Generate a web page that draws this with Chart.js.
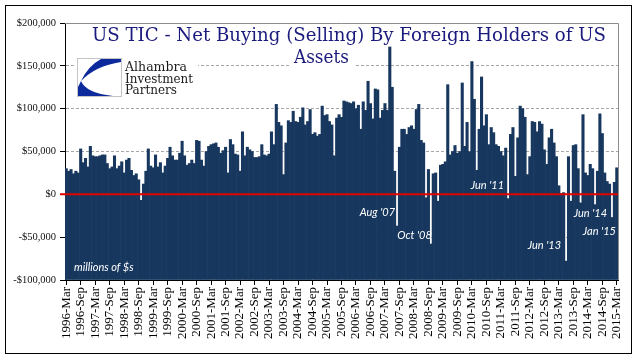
<!DOCTYPE html>
<html>
<head>
<meta charset="utf-8">
<title>US TIC - Net Buying (Selling)</title>
<script src="https://cdn.jsdelivr.net/npm/chart.js@4.4.0/dist/chart.umd.min.js"></script>
<style>
  html, body { margin: 0; padding: 0; background: #fff; }
  #wrap { width: 641px; height: 361px; }
</style>
</head>
<body>
<div id="wrap"><canvas id="ticChart" width="641" height="361"></canvas></div>
<script>
/* -------------------- DATA -------------------- */
const MONTH_NAMES = ["Jan", "Feb", "Mar", "Apr", "May", "Jun", "Jul", "Aug", "Sep", "Oct", "Nov", "Dec"];

// one label per month, 1996-Mar .. 2015-Mar
const months = [];
for (let yr = 1996; yr <= 2015; yr++) {
  for (let m = 0; m < 12; m++) {
    if ((yr === 1996 && m < 2) || (yr === 2015 && m > 2)) continue;
    months.push(yr + "-" + MONTH_NAMES[m]);
  }
}

// net buying (selling), $ millions, one row per year
const netFlows = [
  30000, 27000, 29000, 24000, 27000, 25000, 53000, 37000, 42000, 32000,                 // 1996 (Mar-Dec)
  56000, 45000, 44000, 44000, 45000, 46000, 46000, 36000, 30000, 32000, 45000, 30000,   // 1997
  33000, 38000, 25000, 40000, 42000, 28000, 22000, 24000, 17000, -7000, 12000, 27000,   // 1998
  53000, 33000, 31000, 46000, 32000, 37000, 25000, 33000, 42000, 55000, 45000, 40000,   // 1999
  40000, 48000, 62000, 45000, 34000, 36000, 40000, 36000, 63000, 62000, 40000, 33000,   // 2000
  50000, 56000, 58000, 59000, 60000, 55000, 48000, 51000, 55000, 25000, 64000, 58000,   // 2001
  47000, 46000, 27000, 73000, 45000, 55000, 52000, 50000, 43000, 43000, 44000, 58000,   // 2002
  46000, 45000, 47000, 73000, 58000, 105000, 84000, 80000, 23000, 60000, 86000, 84000,  // 2003
  97000, 85000, 84000, 90000, 101000, 81000, 85000, 99000, 70000, 72000, 68000, 70000,  // 2004
  103000, 92000, 93000, 85000, 81000, 45000, 89000, 93000, 90000, 109000, 108000, 107000, // 2005
  106000, 108000, 100000, 104000, 76000, 108000, 98000, 132000, 106000, 88000, 123000, 122000, // 2006
  89000, 98000, 106000, 98000, 172000, 125000, 27000, -37000, 55000, 76000, 76000, 70000, // 2007
  78000, 80000, 76000, 99000, 105000, 63000, 60000, -4000, 29000, -58000, 24000, 25000, // 2008
  -8000, 34000, 35000, 38000, 128000, 46000, 50000, 57000, 48000, 50000, 130000, 56000, // 2009
  84000, 50000, 155000, 111000, 28000, 76000, 137000, 80000, 93000, 58000, 78000, 72000, // 2010
  58000, 56000, 50000, 45000, 54000, -5000, 70000, 78000, 21000, 66000, 103000, 100000, // 2011
  90000, 23000, 44000, 85000, 84000, 73000, 85000, 82000, 52000, 35000, 66000, 76000,   // 2012
  60000, 44000, 10000, 1000, 2000, -78000, 44000, -8000, 57000, 58000, 30000, -10000,   // 2013
  93000, 25000, 22000, 35000, 30000, -12000, 27000, 94000, 71000, 25000, 15000, 12000,  // 2014
  -27000, 14000, 31000                                                                  // 2015 (Jan-Mar)
];

const yTickValues = [-100000, -50000, 0, 50000, 100000, 150000, 200000];
const dashedGrid = [-50000, 50000, 100000, 150000];

// callouts: month, text, where the text sits (value axis) and shift from the bar
const callouts = [
  { month: "2007-Aug", text: "Aug '07", at: -21000, dx: -2 },
  { month: "2008-Oct", text: "Oct '08", at: -48000, dx: 1 },
  { month: "2011-Jun", text: "Jun '11", at: 10500, dx: -4 },
  { month: "2013-Jun", text: "Jun '13", at: -60000, dx: -5 },
  { month: "2014-Jun", text: "Jun '14", at: -22000, dx: 12 },
  { month: "2015-Jan", text: "Jan '15", at: -43000, dx: 4 }
];

const BAR_COLOR = "#17375e";
const SERIF = "'Liberation Serif', 'Times New Roman', serif";

/* -------------------- HELPERS -------------------- */
function money(v) {
  const s = Math.abs(v).toString().replace(/\B(?=(\d{3})+(?!\d))/g, ",");
  return (v < 0 ? "-$" : "$") + s;
}

// draw text stretched to a given width
function fitText(ctx, text, x, y, w) {
  const m = ctx.measureText(text).width;
  ctx.save();
  ctx.translate(x, y);
  ctx.scale(w / m, 1);
  ctx.fillText(text, 0, 0);
  ctx.restore();
}

/* -------------------- OVERLAY PLUGIN -------------------- */
const overlay = {
  id: "overlay",
  beforeDraw(chart) {
    const ctx = chart.ctx;
    ctx.save();
    ctx.fillStyle = "#fff";
    ctx.fillRect(0, 0, chart.width, chart.height);
    ctx.restore();
  },
  afterDatasetsDraw(chart) {
    const { ctx, chartArea: a, scales: { x, y } } = chart;
    ctx.save();

    // plot frame (top / right)
    ctx.strokeStyle = "#8c8c8c";
    ctx.lineWidth = 1;
    ctx.beginPath();
    ctx.moveTo(a.left, Math.round(a.top) + 0.5);
    ctx.lineTo(Math.round(a.right) + 0.5, Math.round(a.top) + 0.5);
    ctx.lineTo(Math.round(a.right) + 0.5, a.bottom);
    ctx.stroke();

    // zero line
    const y0 = y.getPixelForValue(0);
    ctx.strokeStyle = "#e00000";
    ctx.lineWidth = 2;
    ctx.beginPath();
    ctx.moveTo(a.left - 5, y0);
    ctx.lineTo(a.right, y0);
    ctx.stroke();

    // callouts
    ctx.fillStyle = "#fff";
    ctx.font = "italic 11px Lato, 'Open Sans', sans-serif";
    ctx.textBaseline = "middle";
    ctx.textAlign = "right";
    callouts.forEach(c => {
      const bx = x.getPixelForValue(months.indexOf(c.month));
      ctx.fillText(c.text, bx + c.dx, y.getPixelForValue(c.at));
    });
    ctx.textAlign = "left";
    ctx.fillText("millions of $s", a.left + 9, y.getPixelForValue(-85000));
    ctx.restore();
  },
  afterDraw(chart) {
    const ctx = chart.ctx;
    ctx.save();

    // title
    ctx.fillStyle = "#1b1b7d";
    ctx.font = "18px 'DejaVu Serif', serif";
    ctx.textAlign = "left";
    ctx.textBaseline = "alphabetic";
    fitText(ctx, "US TIC - Net Buying (Selling) By Foreign Holders of US", 92, 41, 514);
    ctx.fillStyle = "#fff";
    ctx.fillRect(290, 48, 64, 18);
    ctx.fillStyle = "#1b1b7d";
    fitText(ctx, "Assets", 294, 63, 55);

    // logo
    ctx.fillStyle = "#fff";
    ctx.fillRect(74, 55, 124, 44);
    ctx.strokeStyle = "#c4c4c4";
    ctx.lineWidth = 1;
    ctx.strokeRect(77.5, 58.5, 44, 38);
    ctx.fillStyle = "#0d2a9c";
    ctx.beginPath();
    ctx.moveTo(101, 59);
    ctx.lineTo(121, 59);
    ctx.lineTo(121, 62);
    ctx.quadraticCurveTo(95, 66, 81, 81);
    ctx.quadraticCurveTo(88, 66, 101, 59);
    ctx.fill();
    ctx.beginPath();
    ctx.moveTo(81, 81);
    ctx.quadraticCurveTo(86, 93, 113, 96);
    ctx.lineTo(78, 96);
    ctx.lineTo(78, 87);
    ctx.closePath();
    ctx.fill();

    ctx.fillStyle = "#1a1a1a";
    ctx.font = "12px 'DejaVu Serif', serif";
    fitText(ctx, "Alhambra", 125, 71, 62);
    fitText(ctx, "Investment", 125, 83, 68);
    fitText(ctx, "Partners", 125, 93.5, 52);

    // outer frame
    ctx.strokeStyle = "#000";
    ctx.lineWidth = 1;
    ctx.strokeRect(5.5, 5.5, 626, 348);
    ctx.restore();
  }
};

/* -------------------- CHART -------------------- */
new Chart(document.getElementById("ticChart"), {
  type: "bar",
  data: {
    labels: months,
    datasets: [{
      data: netFlows,
      base: -100000,
      backgroundColor: BAR_COLOR,
      borderWidth: 0,
      barPercentage: 1,
      categoryPercentage: 1
    }]
  },
  options: {
    responsive: false,
    animation: false,
    devicePixelRatio: 1,
    layout: { padding: { left: 5, top: 23, right: 23, bottom: 0 } },
    plugins: {
      legend: { display: false },
      tooltip: { enabled: false }
    },
    scales: {
      x: {
        offset: true,
        afterFit: s => { s.height = 81; },
        grid: {
          drawOnChartArea: false,
          offset: false,
          tickLength: 5,
          tickColor: c => (c.index % 6 === 0 ? "#000" : "rgba(0,0,0,0)")
        },
        border: { color: "#000" },
        ticks: {
          autoSkip: false,
          minRotation: 90,
          maxRotation: 90,
          padding: 2,
          color: "#000",
          font: { family: SERIF, size: 13 },
          callback: (v, i) => (i % 6 === 0 ? months[i] : "")
        }
      },
      y: {
        min: -100000,
        max: 200000,
        afterFit: s => { s.width = 60; },
        afterBuildTicks: s => { s.ticks = yTickValues.map(v => ({ value: v })); },
        grid: {
          color: c => (c.tick && dashedGrid.includes(c.tick.value) ? "#a6a6a6" : "rgba(0,0,0,0)"),
          tickColor: "#000",
          tickLength: 5
        },
        border: { color: "#000", dash: [3, 2] },
        ticks: {
          padding: 4,
          color: "#111",
          font: { family: SERIF, size: 10.5 },
          callback: v => money(v)
        }
      }
    }
  },
  plugins: [overlay]
});
</script>
</body>
</html>
